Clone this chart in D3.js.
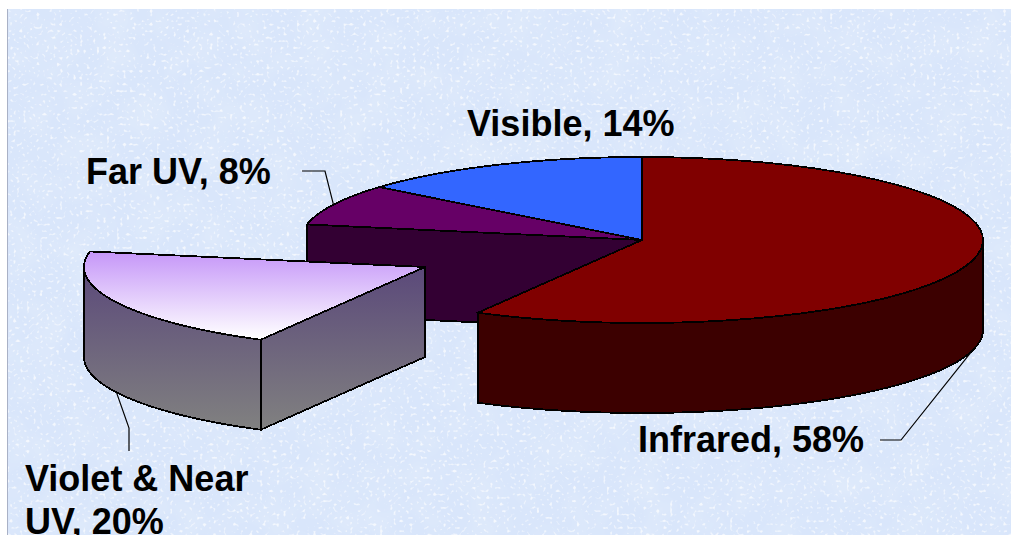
<!DOCTYPE html>
<html>
<head>
<meta charset="utf-8">
<script src="https://cdn.jsdelivr.net/npm/d3@7/dist/d3.min.js"></script>
<style>
  html, body { margin: 0; padding: 0; background: #fff; overflow: hidden; }
  svg { display: block; }
  text { font-family: "Liberation Sans", Arial, sans-serif; font-weight: 700; font-size: 36px; fill: #000; }
</style>
</head>
<body>
<div id="chart"></div>
<script>
// Solar spectrum shares, clockwise from twelve o'clock
const categories = ["Infrared", "Violet & Near UV", "Far UV", "Visible"];
const shares = [58, 20, 8, 14];
const topColors = ["#800000", "url(#violetTop)", "#660066", "#3366ff"];
const sideColors = ["#3c0000", "url(#violetSide)", "#330033", "#1a3380"];
const labelLines = [["Infrared, 58%"], ["Violet & Near", "UV, 20%"], ["Far UV, 8%"], ["Visible, 14%"]];
const explodedSlice = "Violet & Near UV";
const paintOrder = ["Visible", "Far UV", "Infrared", "Violet & Near UV"];

const width = 1011, height = 535;
const cx = 642, cy = 240, rx = 341, ry = 83, depth = 90;
const explode = { dx: -217, dy: 27 };

// Label placement and the elbow of each leader line
const labelPlace = {
  "Infrared": { x: 638, y: 452, leader: [[901, 440], [880, 440]] },
  "Violet & Near UV": { x: 25, y: 491, leader: [[129, 428], [129, 451]] },
  "Far UV": { x: 86, y: 184, leader: [[325, 171], [302, 171]] },
  "Visible": { x: 467, y: 136, leader: null }
};

const svg = d3.select("#chart").append("svg").attr("width", width).attr("height", height);
const defs = svg.append("defs");

// Speckled paper behind the chart
const speck = defs.append("filter").attr("id", "specks")
  .attr("x", 0).attr("y", 0).attr("width", "100%").attr("height", "100%");
speck.append("feTurbulence").attr("type", "fractalNoise")
  .attr("baseFrequency", 0.3).attr("numOctaves", 1).attr("seed", 11);
speck.append("feColorMatrix").attr("type", "matrix")
  .attr("values", "0 0 0 0 1  0 0 0 0 1  0 0 0 0 1  6 0 0 0 -3.55");
speck.append("feGaussianBlur").attr("stdDeviation", 0.6);
const mottle = defs.append("filter").attr("id", "mottle")
  .attr("x", 0).attr("y", 0).attr("width", "100%").attr("height", "100%");
mottle.append("feTurbulence").attr("type", "fractalNoise")
  .attr("baseFrequency", 0.03).attr("numOctaves", 2).attr("seed", 4);
mottle.append("feColorMatrix").attr("type", "matrix")
  .attr("values", "0 0 0 0 0.76  0 0 0 0 0.84  0 0 0 0 0.97  1.4 0 0 0 -0.55");

const addGradient = (id, y1, y2, from, to) => {
  const g = defs.append("linearGradient").attr("id", id)
    .attr("gradientUnits", "userSpaceOnUse")
    .attr("x1", 0).attr("x2", 0).attr("y1", y1).attr("y2", y2);
  g.append("stop").attr("offset", 0).attr("stop-color", from);
  g.append("stop").attr("offset", 1).attr("stop-color", to);
};
addGradient("violetTop", cy + explode.dy - 14, cy + explode.dy + 72, "#c698f8", "#ffffff");
addGradient("violetSide", cy + explode.dy, cy + explode.dy + 160, "#5b497a", "#808080");

const paper = () => svg.append("rect").attr("x", 7).attr("y", 9)
  .attr("width", width - 7).attr("height", height - 9);
paper().attr("fill", "#d9e6fb");
paper().attr("filter", "url(#mottle)");
paper().attr("filter", "url(#specks)").attr("opacity", 0.7);
svg.append("line").attr("x1", 7.5).attr("x2", 7.5).attr("y1", 9).attr("y2", height)
  .attr("stroke", "#a9b1c6").attr("stroke-width", 1);

// Angles come from d3.pie; the tilted disc is the unit circle through two linear scales
const pie = d3.pie().sort(null).value(d => d.share);
const slices = pie(categories.map((name, i) => ({ name, share: shares[i], top: topColors[i], side: sideColors[i], lines: labelLines[i] })));
const px = d3.scaleLinear().domain([-1, 1]).range([cx - rx, cx + rx]);
const py = d3.scaleLinear().domain([-1, 1]).range([cy - ry, cy + ry]);
const outline = d3.line();

const offsetOf = s => s.data.name === explodedSlice ? explode : { dx: 0, dy: 0 };
const rimPoint = (a, s, drop = 0) => {
  const o = offsetOf(s);
  return [px(Math.sin(a)) + o.dx, py(-Math.cos(a)) + o.dy + drop];
};
const centerPoint = (s, drop = 0) => {
  const o = offsetOf(s);
  return [cx + o.dx, cy + o.dy + drop];
};
const arcAngles = (a0, a1) => d3.range(0, 49).map(i => a0 + (a1 - a0) * i / 48);

const chart = svg.append("g");
const styleFace = (sel, fill) => sel.attr("fill", fill).attr("stroke", "#000")
  .attr("stroke-width", 1.8).attr("stroke-linejoin", "miter").attr("shape-rendering", "crispEdges");

const byName = new Map(slices.map(s => [s.data.name, s]));
paintOrder.forEach(name => {
  const s = byName.get(name);
  const index = slices.indexOf(s);
  const prev = slices[(index + slices.length - 1) % slices.length];
  const g = chart.append("g").attr("class", "slice");

  // Cut face at the leading edge, seen only where the exploded slice opens the disc
  const opened = s.data.name === explodedSlice || prev.data.name === explodedSlice;
  if (opened && -Math.sin(s.startAngle) > 0) {
    const quad = [centerPoint(s), rimPoint(s.startAngle, s), rimPoint(s.startAngle, s, depth), centerPoint(s, depth)];
    styleFace(g.append("path").attr("d", outline(quad) + "Z"), s.data.side);
  }

  // Outer wall on the near half of the disc
  const w0 = Math.max(s.startAngle, Math.PI / 2), w1 = Math.min(s.endAngle, 3 * Math.PI / 2);
  if (w1 > w0) {
    const angles = arcAngles(w0, w1);
    const wall = angles.map(a => rimPoint(a, s)).concat(angles.slice().reverse().map(a => rimPoint(a, s, depth)));
    styleFace(g.append("path").attr("d", outline(wall) + "Z"), s.data.side);
  }

  // Top face
  const face = [centerPoint(s)].concat(arcAngles(s.startAngle, s.endAngle).map(a => rimPoint(a, s)));
  styleFace(g.append("path").attr("d", outline(face) + "Z"), s.data.top);
});

// Labels and their leader lines
slices.forEach(s => {
  const place = labelPlace[s.data.name];
  s.data.lines.forEach((line, i) => {
    svg.append("text").attr("x", place.x).attr("y", place.y + i * 43).text(line);
  });
  if (place.leader) {
    const mid = (s.startAngle + s.endAngle) / 2;
    const anchor = rimPoint(mid, s, Math.cos(mid) > 0 ? 0 : depth);
    svg.append("path").attr("d", outline([anchor, ...place.leader]))
      .attr("fill", "none").attr("stroke", "#000").attr("stroke-width", 1.2);
  }
});
</script>
</body>
</html>
